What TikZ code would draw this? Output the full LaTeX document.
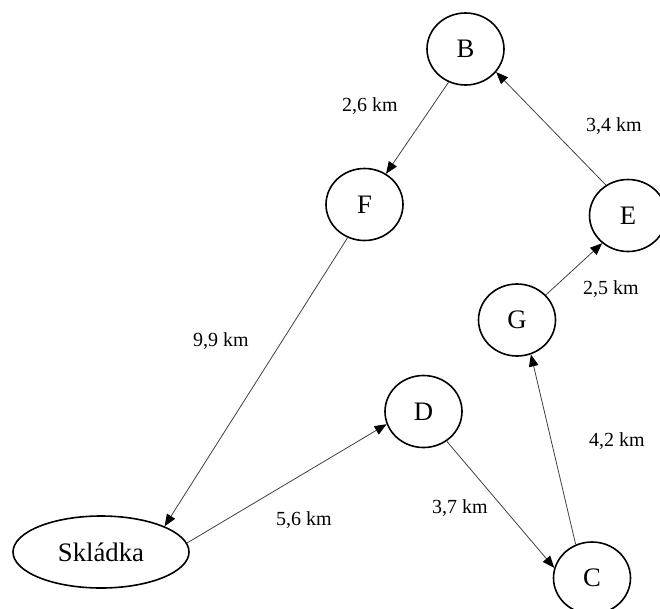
\documentclass[tikz,border=0pt]{standalone}
\usepackage{fontspec}
\setmainfont{Liberation Serif}
\usetikzlibrary{shapes.geometric,arrows.meta}

\tikzset{
  stop/.style={draw=black, line width=1.6pt, ellipse, inner sep=0pt,
    minimum width=77pt, minimum height=72pt,
    font=\fontsize{26.7}{32}\selectfont},
  dump/.style={stop, minimum width=176pt},
  route/.style={draw=black!75, line width=0.8pt,
    -{Triangle[length=12pt,width=9.5pt,color=black]}},
  dist/.style={font=\fontsize{20}{24}\selectfont, inner sep=0pt}
}

\begin{document}
\begin{tikzpicture}[x=1pt, y=-1pt]
  \useasboundingbox (0,0) rectangle (660,608);

  % stops on the collection route
  \node[stop] (B) at (465.5,49) {B};
  \node[stop] (F) at (364.5,204.5) {F};
  \node[stop] (E) at (628,215.5) {E};
  \node[stop] (G) at (517,320) {G};
  \node[stop] (D) at (423.5,411.5) {D};
  \node[stop] (C) at (592,578) {C};
  \node[dump] (S) at (101,552) {Skládka};

  % route legs
  \draw[route] (S.6)   -- (D.199);
  \draw[route] (D.308) -- (C.165);
  \draw[route] (C.116) -- (G.292);
  \draw[route] (G.41)  -- (E.227);
  \draw[route] (E.126) -- (B.323);
  \draw[route] (B.243) -- (F.55);
  \draw[route] (F.243) -- (S.22);

  % leg lengths
  \node[dist] (dBF) at (370,106) {2,6 km};
  \node[dist] (dEB) at (614,126) {3,4 km};
  \node[dist] (dFS) at (221,341) {9,9 km};
  \node[dist] (dGE) at (611,289) {2,5 km};
  \node[dist] (dCG) at (617,441) {4,2 km};
  \node[dist] (dSD) at (304,520) {5,6 km};
  \node[dist] (dDC) at (460,508) {3,7 km};
\end{tikzpicture}
\end{document}
